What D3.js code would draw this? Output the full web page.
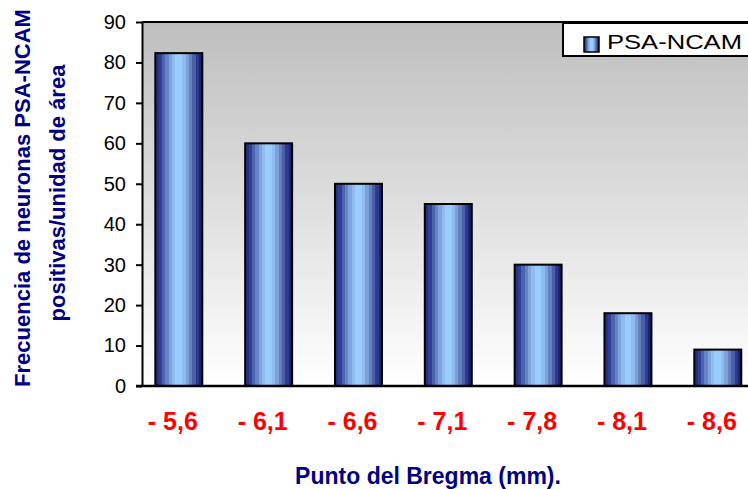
<!DOCTYPE html>
<html><head><meta charset="utf-8">
<script src="https://cdn.jsdelivr.net/npm/d3@7"></script>
<style>body{margin:0;background:#fff}svg{display:block}text{font-family:Arial,"Liberation Sans",sans-serif}</style>
</head><body>
<svg id="c" width="748" height="489"></svg>
<script>
const categories = ["- 5,6","- 6,1","- 6,6","- 7,1","- 7,8","- 8,1","- 8,6"];
const values = [82.3, 60, 50, 45, 30, 18, 9];
const yTicks = [0,10,20,30,40,50,60,70,80,90];
const seriesName = "PSA-NCAM";
const xTitle = "Punto del Bregma (mm).";
const yTitle1 = "Frecuencia de neuronas PSA-NCAM";
const yTitle2 = "positivas/unidad de área";

const svg = d3.select("#c");
const plotL = 142, plotT = 22, plotB = 386, plotR = 748;
const x = d3.scaleBand().domain(categories).range([133.9, 762.7]).paddingInner(0.477).paddingOuter(0.2385);
const y = d3.scaleLinear().domain([0, 90]).range([plotB, plotT]);

const defs = svg.append("defs");
const bg = defs.append("linearGradient").attr("id","bg").attr("x1",0).attr("y1",0).attr("x2",0).attr("y2",1);
bg.append("stop").attr("offset",0).attr("stop-color","#bebebe");
bg.append("stop").attr("offset",1).attr("stop-color","#ffffff");

const stripes = ["#28307f","#2f3f95","#4a64ae","#6585c6","#7fa4dc","#8fbcf0","#99ccff","#99ccff","#8fbcf0","#7ea0d6","#6480bf","#4a5fa6","#2e3a8e","#1c2274"];
const bar = defs.append("linearGradient").attr("id","bar").attr("x1",0).attr("y1",0).attr("x2",1).attr("y2",0);
stripes.forEach((c,i)=>{
  bar.append("stop").attr("offset", i/stripes.length).attr("stop-color", c);
  bar.append("stop").attr("offset", (i+1)/stripes.length).attr("stop-color", c);
});

svg.append("rect").attr("x",plotL).attr("y",plotT).attr("width",plotR-plotL).attr("height",plotB-plotT).attr("fill","url(#bg)");
svg.append("line").attr("x1",plotL).attr("x2",plotR).attr("y1",plotT).attr("y2",plotT).attr("stroke","#000").attr("stroke-width",2);

svg.selectAll("rect.bar").data(values).join("rect").attr("class","bar")
  .attr("x",(d,i)=>x(categories[i])).attr("width",x.bandwidth())
  .attr("y",d=>y(d)).attr("height",d=>y(0)-y(d))
  .attr("fill","url(#bar)").attr("stroke","#000").attr("stroke-width",2);

const ya = svg.append("g").attr("transform",`translate(${plotL},0)`)
  .call(d3.axisLeft(y).tickValues(yTicks).tickSize(6).tickPadding(10).tickSizeOuter(0));
ya.select(".domain").attr("stroke","#000").attr("stroke-width",2);
ya.selectAll(".tick line").attr("stroke","#000").attr("stroke-width",2);
ya.selectAll(".tick text").attr("font-size",20).attr("fill","#000").attr("font-family","Arial, 'Liberation Sans', sans-serif");

svg.append("line").attr("x1",plotL-6).attr("x2",plotR).attr("y1",plotB).attr("y2",plotB).attr("stroke","#000").attr("stroke-width",2.5);

svg.selectAll("text.xl").data(categories).join("text").attr("class","xl")
  .attr("x",d=>x(d)+x.bandwidth()/2-6).attr("y",430)
  .attr("text-anchor","middle").attr("font-size",25).attr("font-weight","bold").attr("fill","#ff0000")
  .text(d=>d);

svg.append("text").attr("x",428).attr("y",484).attr("text-anchor","middle")
  .attr("font-size",23).attr("font-weight","bold").attr("fill","#000080").text(xTitle);

svg.append("text").attr("transform","translate(30,198) rotate(-90)").attr("text-anchor","middle")
  .attr("font-size",22).attr("font-weight","bold").attr("fill","#000080").text(yTitle1);
svg.append("text").attr("transform","translate(65,193) rotate(-90)").attr("text-anchor","middle")
  .attr("font-size",22).attr("font-weight","bold").attr("fill","#000080").text(yTitle2);

// legend
const lg = svg.append("g");
lg.append("rect").attr("x",563).attr("y",23).attr("width",186).attr("height",33).attr("fill","#fff").attr("stroke","#000").attr("stroke-width",2);
lg.append("rect").attr("x",584).attr("y",37).attr("width",15).attr("height",15).attr("fill","url(#bar)").attr("stroke","#000").attr("stroke-width",1.5);
lg.append("text").attr("x",607).attr("y",49).attr("font-size",21).attr("fill","#000")
  .attr("textLength",135).attr("lengthAdjust","spacingAndGlyphs").text(seriesName);
</script>
</body></html>
